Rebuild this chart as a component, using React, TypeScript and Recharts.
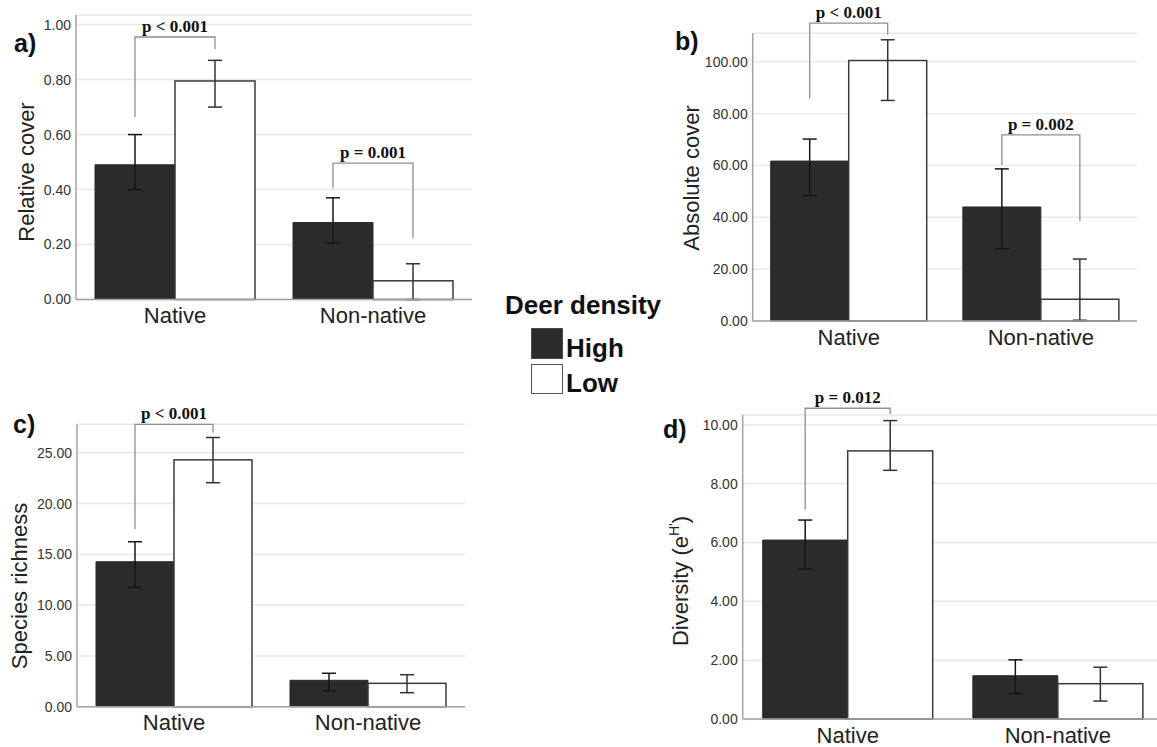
import React from 'react';
import { BarChart, Bar, XAxis, YAxis, CartesianGrid, ErrorBar } from 'recharts';

const categories = ['Native', 'Non-native'];

// a) relative cover
const relHigh = [0.49, 0.28];
const relHighCi = [[0.4, 0.6], [0.205, 0.37]];
const relLow = [0.795, 0.068];
const relLowCi = [[0.7, 0.87], [0.0, 0.13]];
const relTicks = [0, 0.2, 0.4, 0.6, 0.8, 1.0];
const relBrackets = [
  { cat: 'Native', top: 0.955, left: 0.664, right: 0.911, label: 'p < 0.001' },
  { cat: 'Non-native', top: 0.496, left: 0.405, right: 0.223, label: 'p = 0.001' },
];

// b) absolute cover
const absHigh = [61.7, 44];
const absHighCi = [[48.4, 70.2], [27.9, 58.7]];
const absLow = [100.5, 8.4];
const absLowCi = [[85.1, 108.5], [0.3, 23.9]];
const absTicks = [0, 20, 40, 60, 80, 100];
const absBrackets = [
  { cat: 'Native', top: 114.9, left: 85.7, right: 110.4, label: 'p < 0.001' },
  { cat: 'Non-native', top: 71.8, left: 60.2, right: 38.6, label: 'p = 0.002' },
];

// c) species richness
const richHigh = [14.27, 2.6];
const richHighCi = [[11.75, 16.24], [1.55, 3.29]];
const richLow = [24.3, 2.3];
const richLowCi = [[22.05, 26.5], [1.38, 3.15]];
const richTicks = [0, 5, 10, 15, 20, 25];
const richBrackets = [
  { cat: 'Native', top: 27.8, left: 17.46, right: 26.97, label: 'p < 0.001' },
];

// d) diversity
const divHigh = [6.08, 1.47];
const divHighCi = [[5.09, 6.76], [0.87, 2.01]];
const divLow = [9.11, 1.2];
const divLowCi = [[8.45, 10.14], [0.61, 1.76]];
const divTicks = [0, 2, 4, 6, 8, 10];
const divBrackets = [
  { cat: 'Native', top: 10.56, left: 7.12, right: 10.36, label: 'p = 0.012' },
];

type Bracket = { cat: string; top: number; left: number; right: number; label: string };

const buildRows = (high: number[], highCi: number[][], low: number[], lowCi: number[][], brackets: Bracket[]) =>
  categories.map((name, i) => ({
    name,
    high: high[i],
    low: low[i],
    highErr: [high[i] - highCi[i][0], highCi[i][1] - high[i]],
    lowErr: [low[i] - lowCi[i][0], lowCi[i][1] - low[i]],
    bracket: brackets.find(b => b.cat === name),
  }));

const SANS = "'Liberation Sans', Arial, sans-serif";
const SERIF = "'Liberation Serif', 'Times New Roman', serif";
const Y_W = 50;
const X_H = 32;

// white bar, plus the significance bracket spanning both bars of the group
const LowShape = (props: any) => {
  const { x, y, width, height, payload } = props;
  const base = y + height;
  const k = height / payload.low;
  const b = payload.bracket;
  return (
    <g>
      <rect x={x} y={y} width={width} height={height} fill="#fff" stroke="#3a3a3a" strokeWidth={1.5} />
      {b && (
        <g>
          <path
            d={`M${x - width / 2},${base - b.left * k} V${base - b.top * k} H${x + width / 2} V${base - b.right * k}`}
            fill="none"
            stroke="#8f8f8f"
            strokeWidth={1.3}
          />
          <text x={x} y={base - b.top * k - 5} textAnchor="middle" fontFamily={SERIF} fontWeight="bold" fontSize={17} fill="#111">
            {b.label}
          </text>
        </g>
      )}
    </g>
  );
};

type Geo = { x: number; y: number; w: number; h: number; left: number; right: number; top: number; bottom: number };

const Panel = ({ geo, rows, max, ticks, barSize }: { geo: Geo; rows: any[]; max: number; ticks: number[]; barSize: number }) => {
  const margin = {
    top: geo.top - geo.y,
    left: geo.left - geo.x - Y_W,
    right: geo.x + geo.w - geo.right,
    bottom: geo.y + geo.h - geo.bottom - X_H,
  };
  return (
    <div style={{ position: 'absolute', left: geo.x, top: geo.y }}>
      <BarChart width={geo.w} height={geo.h} data={rows} margin={margin} barGap={0} barSize={barSize}>
        <CartesianGrid vertical={false} stroke="#e8e8e8" strokeWidth={1.5} />
        <XAxis
          dataKey="name"
          height={X_H}
          tickLine={false}
          tickSize={0}
          tickMargin={8}
          axisLine={{ stroke: '#a3a3a3', strokeWidth: 1.5 }}
          tick={{ fontSize: 22, fill: '#222', fontFamily: SANS }}
        />
        <YAxis
          width={Y_W}
          domain={[0, max]}
          ticks={ticks}
          tickLine={false}
          tickSize={0}
          tickMargin={5}
          axisLine={{ stroke: '#a3a3a3', strokeWidth: 1.5 }}
          tick={{ fontSize: 14, fill: '#333', fontFamily: SANS }}
          tickFormatter={(v: number) => v.toFixed(2)}
        />
        <Bar dataKey="high" fill="#2a2b2d" stroke="#2a2b2d" isAnimationActive={false}>
          <ErrorBar dataKey="highErr" width={7} stroke="#151515" strokeWidth={1.5} />
        </Bar>
        <Bar dataKey="low" fill="#fff" stroke="#3a3a3a" isAnimationActive={false} shape={LowShape}>
          <ErrorBar dataKey="lowErr" width={7} stroke="#333" strokeWidth={1.5} />
        </Bar>
      </BarChart>
    </div>
  );
};

const rot = (cx: number, cy: number): React.CSSProperties => ({
  position: 'absolute',
  left: cx,
  top: cy,
  transform: 'translate(-50%, -50%) rotate(-90deg)',
  whiteSpace: 'nowrap',
  fontFamily: SANS,
  fontSize: 22,
  color: '#222',
});

const letter = (left: number, top: number): React.CSSProperties => ({
  position: 'absolute',
  left,
  top,
  fontFamily: SANS,
  fontWeight: 'bold',
  fontSize: 25,
  color: '#111',
});

export default function App() {
  return (
    <div style={{ position: 'absolute', left: 0, top: 0, width: 1157, height: 747, overflow: 'hidden', background: '#fff' }}>
      <Panel
        geo={{ x: 0, y: 0, w: 480, h: 365, left: 76, right: 472, top: 15, bottom: 299.5 }}
        rows={buildRows(relHigh, relHighCi, relLow, relLowCi, relBrackets)}
        max={1.035}
        ticks={relTicks}
        barSize={80}
      />
      <Panel
        geo={{ x: 620, y: 0, w: 537, h: 365, left: 752.7, right: 1137, top: 33.3, bottom: 321 }}
        rows={buildRows(absHigh, absHighCi, absLow, absLowCi, absBrackets)}
        max={111}
        ticks={absTicks}
        barSize={78}
      />
      <Panel
        geo={{ x: 0, y: 385, w: 480, h: 362, left: 77, right: 465, top: 424.3, bottom: 706.7 }}
        rows={buildRows(richHigh, richHighCi, richLow, richLowCi, richBrackets)}
        max={27.8}
        ticks={richTicks}
        barSize={78}
      />
      <Panel
        geo={{ x: 640, y: 375, w: 530, h: 372, left: 742.7, right: 1163, top: 415, bottom: 719 }}
        rows={buildRows(divHigh, divHighCi, divLow, divLowCi, divBrackets)}
        max={10.33}
        ticks={divTicks}
        barSize={85}
      />

      <div style={rot(26.5, 172)}>Relative cover</div>
      <div style={rot(691.5, 178)}>Absolute cover</div>
      <div style={rot(20, 586)}>Species richness</div>
      <div style={rot(680, 581)}>
        Diversity (e<sup style={{ fontSize: 14 }}>H'</sup>)
      </div>

      <div style={letter(14, 29)}>a)</div>
      <div style={letter(675, 27)}>b)</div>
      <div style={letter(13, 410)}>c)</div>
      <div style={letter(663, 415)}>d)</div>

      <div style={{ position: 'absolute', left: 505, top: 290, fontFamily: SANS, fontWeight: 'bold', fontSize: 26, color: '#111', whiteSpace: 'nowrap' }}>
        Deer density
      </div>
      <div style={{ position: 'absolute', left: 531, top: 328, width: 30, height: 29, background: '#2a2b2d', border: '1.5px solid #4a4a4a' }} />
      <div style={{ position: 'absolute', left: 531, top: 364, width: 30, height: 28, background: '#fff', border: '1.5px solid #555' }} />
      <div style={{ position: 'absolute', left: 566, top: 333, fontFamily: SANS, fontWeight: 'bold', fontSize: 26, color: '#111' }}>High</div>
      <div style={{ position: 'absolute', left: 566, top: 368, fontFamily: SANS, fontWeight: 'bold', fontSize: 26, color: '#111' }}>Low</div>
    </div>
  );
}
